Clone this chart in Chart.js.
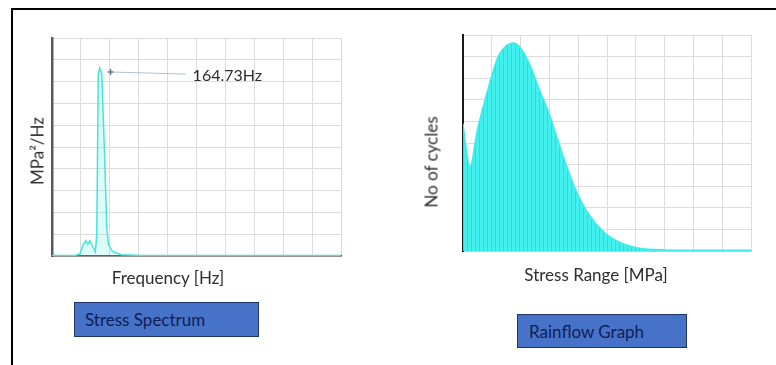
<!DOCTYPE html>
<html>
<head>
<meta charset="utf-8">
<script src="https://cdn.jsdelivr.net/npm/chart.js@4.4.1/dist/chart.umd.min.js"></script>
<style>
  html, body { margin: 0; padding: 0; background: #fff; width: 776px; height: 365px; overflow: hidden; }
  #frame { position: absolute; left: 11px; top: 8px; width: 800px; height: 400px;
           border-top: 2px solid #000; border-left: 2px solid #000; }
  canvas { position: absolute; top: 0; }
  #psdChart { left: 0; }
  #rainflowChart { left: 388px; }
  .axis-title { position: absolute; white-space: nowrap; font: 17px Lato, sans-serif; color: #2e2e2e;
                transform: translate(-50%, -50%); }
  .axis-title.vertical { transform: translate(-50%, -50%) rotate(-90deg); }
  .btn { position: absolute; box-sizing: border-box; background: #4672c8; border: 1px solid #1f3566;
         color: #101e55; font: 17px Lato, sans-serif; display: flex; align-items: center; white-space: nowrap; }
  #btnSpectrum { left: 74px; top: 302px; width: 185px; height: 35px; padding-left: 10px; }
  #btnRainflow { left: 517px; top: 314px; width: 170px; height: 34px; padding-left: 11px; }
</style>
</head>
<body>
<div id="frame"></div>
<canvas id="psdChart" width="388" height="300"></canvas>
<canvas id="rainflowChart" width="388" height="300"></canvas>
<div class="axis-title vertical" style="left:37px; top:151px;">MPa²/Hz</div>
<div class="axis-title" style="left:168px; top:277px;">Frequency [Hz]</div>
<div class="axis-title vertical" style="left:431px; top:162px;">No of cycles</div>
<div class="axis-title" style="left:596px; top:274px;">Stress Range [MPa]</div>
<div class="btn" id="btnSpectrum">Stress Spectrum</div>
<div class="btn" id="btnRainflow">Rainflow Graph</div>
<script>
// Stress power spectral density (frequency in Hz, PSD in MPa²/Hz)
const freqHz = [0, 80, 97, 107, 117, 124, 131, 142, 150, 155, 160, 164.73, 172, 181, 190, 196, 210, 240, 300, 1000];
const psd    = [0.02, 0.02, 0.1, 0.5, 0.7, 0.55, 0.7, 0.4, 0.2, 1.0, 8.3, 8.62, 8.4, 5.0, 1.2, 0.5, 0.2, 0.06, 0.03, 0.02];

// Rainflow cycle counts over stress range (MPa)
const stressRange = [0, 1, 2.4, 5, 8.7, 12.2, 15, 17.4, 20, 23.6, 26.4, 29.5, 34, 38.9, 43.4, 49.3, 54.9, 60.8, 70, 85, 100];
const cycles      = [590, 480, 390, 560, 750, 900, 950, 963, 940, 850, 750, 650, 470, 290, 175, 83, 37, 14, 5, 3, 3];

Chart.defaults.font.family = 'Lato, sans-serif';
Chart.defaults.color = '#3a3a3a';

const peakIdx = psd.indexOf(Math.max(...psd));
const peakHz = freqHz[peakIdx];
const peakPsd = psd[peakIdx];

const toPoints = (xs, ys) => xs.map((v, i) => ({ x: v, y: ys[i] }));

// Peak marker with a leader line and its frequency label
const peakLabel = {
  id: 'peakLabel',
  afterDatasetsDraw(chart) {
    const { ctx, scales: { x, y } } = chart;
    const mx = x.getPixelForValue(peakHz) + 11;
    const my = y.getPixelForValue(peakPsd) + 4;
    ctx.save();
    ctx.strokeStyle = '#a9c3d6';
    ctx.lineWidth = 1;
    ctx.beginPath();
    ctx.moveTo(mx + 3, my);
    ctx.lineTo(mx + 75, my + 2);
    ctx.stroke();
    ctx.strokeStyle = '#5f7f92';
    ctx.lineWidth = 1.5;
    ctx.beginPath();
    ctx.moveTo(mx - 3, my); ctx.lineTo(mx + 3, my);
    ctx.moveTo(mx, my - 3); ctx.lineTo(mx, my + 3);
    ctx.stroke();
    ctx.fillStyle = '#2e2e2e';
    ctx.font = '16px Lato, sans-serif';
    ctx.textBaseline = 'middle';
    ctx.fillText(peakHz.toFixed(2) + 'Hz', mx + 82, my + 4);
    ctx.restore();
  }
};

function axes(opts) {
  return {
    x: {
      type: 'linear', min: opts.xMin, max: opts.xMax,
      ticks: { display: false, stepSize: opts.xStep },
      grid: { color: '#dcdcdc', lineWidth: 1, drawTicks: false },
      border: { display: true, color: opts.xBorder, width: 1.5 },
      afterFit: s => { s.height = opts.xH; }
    },
    y: {
      type: 'linear', min: opts.yMin, max: opts.yMax,
      ticks: { display: false, stepSize: opts.yStep },
      grid: { color: '#dcdcdc', lineWidth: 1, drawTicks: false },
      border: { display: true, color: opts.yBorder, width: opts.yBorderW },
      afterFit: s => { s.width = opts.yW; }
    }
  };
}

new Chart(document.getElementById('psdChart'), {
  type: 'line',
  data: {
    datasets: [{
      data: toPoints(freqHz, psd),
      borderColor: '#45e6d6',
      borderWidth: 1.5,
      backgroundColor: 'rgba(100,235,225,0.22)',
      fill: 'origin',
      pointRadius: 0,
      tension: 0
    }]
  },
  options: {
    responsive: false,
    animation: false,
    layout: { padding: { left: 27, top: 38, right: 47, bottom: 13 } },
    plugins: { legend: { display: false }, tooltip: { enabled: false } },
    scales: axes({
      xMin: 0, xMax: 1000, xStep: 100, xH: 31, xBorder: '#4a4a4a',
      yMin: 0, yMax: 10, yStep: 1, yW: 25, yBorder: '#5a5a5a', yBorderW: 2.5
    })
  },
  plugins: [peakLabel]
});

// Striped cyan fill for the histogram-like rainflow area
function stripePattern() {
  const c = document.createElement('canvas');
  c.width = 4; c.height = 4;
  const g = c.getContext('2d');
  g.fillStyle = '#42f0ee';
  g.fillRect(0, 0, 4, 4);
  g.fillStyle = '#34d9d9';
  g.fillRect(3, 0, 1, 4);
  return g.createPattern(c, 'repeat');
}

new Chart(document.getElementById('rainflowChart'), {
  type: 'line',
  data: {
    datasets: [{
      data: toPoints(stressRange, cycles),
      borderColor: '#40ecea',
      borderWidth: 1.5,
      backgroundColor: stripePattern(),
      fill: 'origin',
      pointRadius: 0,
      cubicInterpolationMode: 'monotone'
    }]
  },
  options: {
    responsive: false,
    animation: false,
    layout: { padding: { left: 33, top: 35, right: 25, bottom: 16 } },
    plugins: { legend: { display: false }, tooltip: { enabled: false } },
    scales: axes({
      xMin: 0, xMax: 100, xStep: 10, xH: 33, xBorder: '#40ecea',
      yMin: 0, yMax: 1000, yStep: 100, yW: 42, yBorder: '#1a1a1a', yBorderW: 2
    })
  }
});
</script>
</body>
</html>
